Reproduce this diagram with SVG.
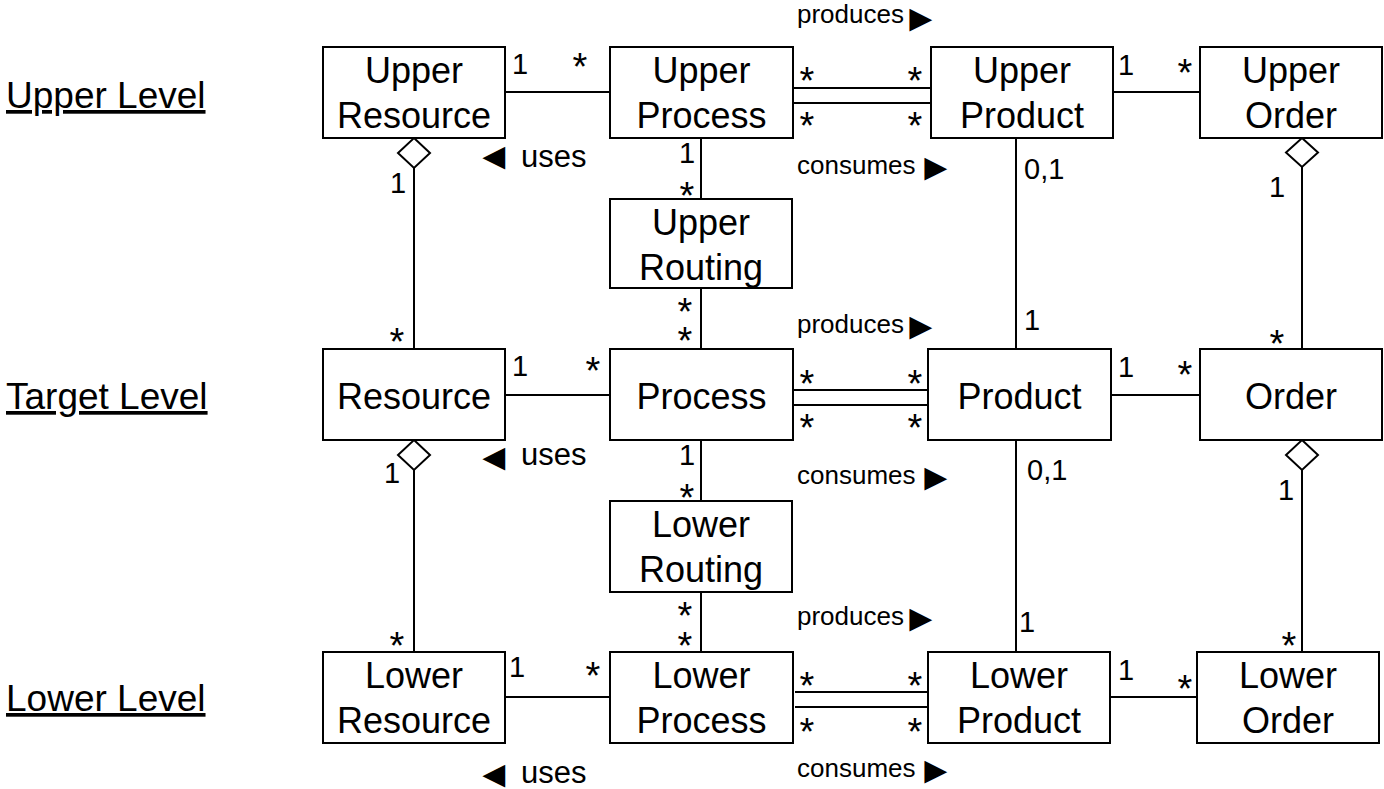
<svg xmlns="http://www.w3.org/2000/svg" width="1384" height="789" viewBox="0 0 1384 789">
<style>
.box{fill:#fff;stroke:#000;stroke-width:2}
.ln{stroke:#000;stroke-width:2;fill:none}
.dia{fill:#fff;stroke:#000;stroke-width:2}
.t{font-family:"Liberation Sans",Arial,sans-serif;font-size:36px;text-anchor:middle;fill:#000}
.m{font-family:"Liberation Sans",Arial,sans-serif;font-size:29px;text-anchor:middle;fill:#000}
.s{font-family:"Liberation Sans",Arial,sans-serif;font-size:38px;text-anchor:middle;fill:#000}
.z{font-family:"Liberation Sans",Arial,sans-serif;font-size:29px;fill:#000}
.r{font-family:"Liberation Sans",Arial,sans-serif;font-size:26px;fill:#000}
.u{font-family:"Liberation Sans",Arial,sans-serif;font-size:31px;fill:#000}
.tri{font-size:38px}
.lvl{font-family:"Liberation Sans",Arial,sans-serif;font-size:37px;fill:#000;text-decoration:underline}
</style>
<rect width="1384" height="789" fill="#fff"/>
<g id="levels">
<text class="lvl" x="6" y="108">Upper Level</text>
<text class="lvl" x="6" y="409">Target Level</text>
<text class="lvl" x="6" y="711">Lower Level</text>
</g>
<g id="connectors">
<line class="ln" x1="505" y1="92" x2="610" y2="92"/>
<line class="ln" x1="793" y1="88" x2="931" y2="88"/>
<line class="ln" x1="793" y1="103" x2="931" y2="103"/>
<line class="ln" x1="1113" y1="92" x2="1200" y2="92"/>
<line class="ln" x1="414" y1="168" x2="414" y2="349"/>
<polygon class="dia" points="414,138 430,153 414,168 398,153"/>
<line class="ln" x1="701" y1="138" x2="701" y2="199"/>
<line class="ln" x1="701" y1="288" x2="701" y2="349"/>
<line class="ln" x1="1016" y1="138" x2="1016" y2="349"/>
<line class="ln" x1="1302" y1="167" x2="1302" y2="349"/>
<polygon class="dia" points="1302,138 1318,152.5 1302,167 1286,152.5"/>
<line class="ln" x1="505" y1="395" x2="610" y2="395"/>
<line class="ln" x1="793" y1="390" x2="931" y2="390"/>
<line class="ln" x1="793" y1="405" x2="931" y2="405"/>
<line class="ln" x1="1111" y1="395" x2="1200" y2="395"/>
<line class="ln" x1="414" y1="470" x2="414" y2="652"/>
<polygon class="dia" points="414,440 430,455 414,470 398,455"/>
<line class="ln" x1="701" y1="440" x2="701" y2="501"/>
<line class="ln" x1="701" y1="592" x2="701" y2="652"/>
<line class="ln" x1="1016" y1="440" x2="1016" y2="652"/>
<line class="ln" x1="1302" y1="470" x2="1302" y2="652"/>
<polygon class="dia" points="1302,440 1318,455 1302,470 1286,455"/>
<line class="ln" x1="505" y1="697" x2="610" y2="697"/>
<line class="ln" x1="795" y1="692" x2="931" y2="692"/>
<line class="ln" x1="795" y1="707" x2="931" y2="707"/>
<line class="ln" x1="1110" y1="697" x2="1197" y2="697"/>
</g>
<g id="upper-resource"><rect class="box" x="323" y="47" width="182" height="91"/><text class="t" x="414" y="83">Upper</text><text class="t" x="414" y="128">Resource</text></g>
<g id="upper-process"><rect class="box" x="610" y="47" width="183" height="91"/><text class="t" x="701.5" y="83">Upper</text><text class="t" x="701.5" y="128">Process</text></g>
<g id="upper-product"><rect class="box" x="931" y="47" width="182" height="91"/><text class="t" x="1022" y="83">Upper</text><text class="t" x="1022" y="128">Product</text></g>
<g id="upper-order"><rect class="box" x="1200" y="47" width="182" height="91"/><text class="t" x="1291" y="83">Upper</text><text class="t" x="1291" y="128">Order</text></g>
<g id="upper-routing"><rect class="box" x="610" y="199" width="182" height="89"/><text class="t" x="701" y="235">Upper</text><text class="t" x="701" y="280">Routing</text></g>
<g id="resource"><rect class="box" x="323" y="349" width="182" height="91"/><text class="t" x="414" y="409">Resource</text></g>
<g id="process"><rect class="box" x="610" y="349" width="183" height="91"/><text class="t" x="701.5" y="409">Process</text></g>
<g id="product"><rect class="box" x="928" y="349" width="183" height="91"/><text class="t" x="1019.5" y="409">Product</text></g>
<g id="order"><rect class="box" x="1200" y="349" width="182" height="91"/><text class="t" x="1291" y="409">Order</text></g>
<g id="lower-routing"><rect class="box" x="610" y="501" width="182" height="91"/><text class="t" x="701" y="537">Lower</text><text class="t" x="701" y="582">Routing</text></g>
<g id="lower-resource"><rect class="box" x="323" y="652" width="182" height="91"/><text class="t" x="414" y="688">Lower</text><text class="t" x="414" y="733">Resource</text></g>
<g id="lower-process"><rect class="box" x="610" y="652" width="183" height="91"/><text class="t" x="701.5" y="688">Lower</text><text class="t" x="701.5" y="733">Process</text></g>
<g id="lower-product"><rect class="box" x="928" y="652" width="182" height="91"/><text class="t" x="1019" y="688">Lower</text><text class="t" x="1019" y="733">Product</text></g>
<g id="lower-order"><rect class="box" x="1197" y="652" width="182" height="91"/><text class="t" x="1288" y="688">Lower</text><text class="t" x="1288" y="733">Order</text></g>
<g id="multiplicities">
<text class="m" x="520" y="74">1</text>
<text class="m" x="1126" y="75">1</text>
<text class="m" x="398" y="193">1</text>
<text class="m" x="1277" y="197">1</text>
<text class="m" x="687" y="163">1</text>
<text class="m" x="1032" y="330">1</text>
<text class="m" x="520" y="376">1</text>
<text class="m" x="1126" y="377">1</text>
<text class="m" x="392" y="483">1</text>
<text class="m" x="1286" y="500">1</text>
<text class="m" x="687" y="465">1</text>
<text class="m" x="1027" y="632">1</text>
<text class="m" x="517" y="677">1</text>
<text class="m" x="1126" y="680">1</text>
<text class="z" x="1024" y="179">0,1</text>
<text class="z" x="1027" y="480">0,1</text>
<text class="s" x="580" y="79.5">*</text>
<text class="s" x="807" y="94">*</text>
<text class="s" x="915" y="94">*</text>
<text class="s" x="807" y="139">*</text>
<text class="s" x="915" y="139">*</text>
<text class="s" x="1185" y="85.5">*</text>
<text class="s" x="687" y="209">*</text>
<text class="s" x="685" y="325">*</text>
<text class="s" x="685" y="354">*</text>
<text class="s" x="397" y="355">*</text>
<text class="s" x="1277" y="357">*</text>
<text class="s" x="593" y="384">*</text>
<text class="s" x="807" y="397">*</text>
<text class="s" x="915" y="397">*</text>
<text class="s" x="807" y="441">*</text>
<text class="s" x="915" y="441">*</text>
<text class="s" x="1185" y="388">*</text>
<text class="s" x="687" y="511">*</text>
<text class="s" x="685" y="629">*</text>
<text class="s" x="685" y="659">*</text>
<text class="s" x="397" y="659">*</text>
<text class="s" x="1289" y="659">*</text>
<text class="s" x="593" y="689">*</text>
<text class="s" x="807" y="699">*</text>
<text class="s" x="915" y="699">*</text>
<text class="s" x="807" y="745">*</text>
<text class="s" x="915" y="745">*</text>
<text class="s" x="1185" y="702">*</text>
</g>
<g id="roles">
<text class="r" x="797" y="23">produces<tspan class="tri" x="902" y="30.5">►</tspan></text>
<text class="r" x="797" y="174">consumes<tspan class="tri" x="917" y="179.5">►</tspan></text>
<text class="u" x="475" y="168.5"><tspan class="tri">◄</tspan><tspan x="521" y="167">uses</tspan></text>
<text class="r" x="797" y="333">produces<tspan class="tri" x="902" y="339">►</tspan></text>
<text class="r" x="797" y="484">consumes<tspan class="tri" x="917" y="490">►</tspan></text>
<text class="u" x="475" y="470"><tspan class="tri">◄</tspan><tspan x="521" y="465">uses</tspan></text>
<text class="r" x="797" y="625">produces<tspan class="tri" x="902" y="631">►</tspan></text>
<text class="r" x="797" y="777">consumes<tspan class="tri" x="917" y="783">►</tspan></text>
<text class="u" x="475" y="787"><tspan class="tri">◄</tspan><tspan x="521" y="783">uses</tspan></text>
</g>
</svg>
